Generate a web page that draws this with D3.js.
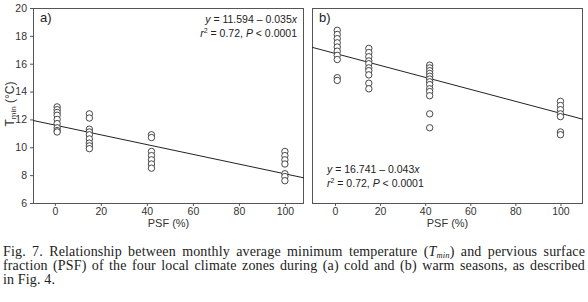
<!DOCTYPE html>
<html>
<head>
<meta charset="utf-8">
<script src="https://cdn.jsdelivr.net/npm/d3@7"></script>
<style>
  body { margin: 0; background: #fff; }
  svg { display: block; font-family: "Liberation Sans", Arial, sans-serif; }
  .tick text { font-size: 10.5px; fill: #333; }
  .caption { font-family: "Liberation Serif", "Times New Roman", serif; font-size: 14px; letter-spacing: 0.15px; fill: #222; }
</style>
</head>
<body>
<div id="chart"></div>
<script>
// PSF groups (%)
var psfGroups = [1, 15, 42, 100];

// (a) cold season Tmin per PSF group
var coldAt1 = [12.9, 12.7, 12.5, 12.3, 12.0, 11.7, 11.4, 11.2, 11.1];
var coldAt15 = [12.4, 12.1, 11.3, 11.1, 10.9, 10.6, 10.3, 10.1, 9.9];
var coldAt42 = [10.9, 10.7, 9.7, 9.4, 9.1, 8.8, 8.5];
var coldAt100 = [9.7, 9.4, 9.1, 8.8, 8.1, 7.9, 7.6];

// (b) warm season Tmin per PSF group
var warmAt1 = [18.4, 18.1, 17.8, 17.5, 17.2, 16.9, 16.6, 16.3, 15.0, 14.8];
var warmAt15 = [17.1, 16.8, 16.5, 16.2, 16.0, 15.7, 15.5, 15.2, 14.6, 14.2];
var warmAt42 = [15.9, 15.7, 15.5, 15.3, 15.1, 14.9, 14.7, 14.5, 14.2, 14.0, 13.7, 12.4, 11.4];
var warmAt100 = [13.3, 13.0, 12.7, 12.4, 12.2, 11.1, 10.9];

var yTicks = [6, 8, 10, 12, 14, 16, 18, 20];
var xTicks = [0, 20, 40, 60, 80, 100];

var svg = d3.select("#chart").append("svg")
  .attr("width", 588)
  .attr("height", 302);

// flatten a set of groups into points
function toPoints(groups) {
  var pts = [];
  groups.forEach(function(vals, i) {
    vals.forEach(function(v) { pts.push({ x: psfGroups[i], y: v }); });
  });
  return pts;
}

function panel(opt) {
  var x = d3.scaleLinear().domain(opt.xDomain).range([opt.left, opt.right]);
  var y = d3.scaleLinear().domain([6, 20]).range([203, 8]);

  var g = svg.append("g");

  // frame
  g.append("rect")
    .attr("x", opt.left + 0.5).attr("y", 8.5)
    .attr("width", opt.right - opt.left - 1).attr("height", 195)
    .attr("fill", "none").attr("stroke", "#555").attr("stroke-width", 1);

  var xAxis = g.append("g")
    .attr("transform", "translate(0,203)")
    .call(d3.axisBottom(x).tickValues(xTicks).tickSize(3).tickPadding(2));
  xAxis.select(".domain").remove();
  xAxis.selectAll("line").attr("stroke", "#555");

  if (opt.yAxis) {
    var yAxis = g.append("g")
      .attr("transform", "translate(" + opt.left + ",0)")
      .call(d3.axisLeft(y).tickValues(yTicks).tickSize(3).tickPadding(3));
    yAxis.select(".domain").remove();
    yAxis.selectAll("line").attr("stroke", "#555");
  }

  // regression line
  var xd = x.domain();
  g.append("line")
    .attr("x1", x(xd[0])).attr("y1", y(opt.b0 + opt.b1 * xd[0]))
    .attr("x2", x(xd[1])).attr("y2", y(opt.b0 + opt.b1 * xd[1]))
    .attr("stroke", "#222").attr("stroke-width", 1);

  g.selectAll("circle.pt")
    .data(toPoints(opt.groups))
    .enter().append("circle")
    .attr("class", "pt")
    .attr("cx", function(d) { return x(d.x); })
    .attr("cy", function(d) { return y(d.y); })
    .attr("r", 3.2)
    .attr("fill", "#fff")
    .attr("stroke", "#333")
    .attr("stroke-width", 0.9);

  g.append("text")
    .attr("x", opt.left + 7).attr("y", 22)
    .attr("font-size", "13px").attr("fill", "#222")
    .text(opt.label);

  g.append("text")
    .attr("x", x(xd[0] + (xd[1] - xd[0]) / 2)).attr("y", 227)
    .attr("text-anchor", "middle").attr("font-size", "11px").attr("fill", "#333")
    .text("PSF (%)");

  var eq = g.append("text")
    .attr("font-size", "10.5px").attr("fill", "#222")
    .attr("text-anchor", opt.eqAnchor);
  var l1 = eq.append("tspan").attr("x", opt.eqX).attr("y", opt.eqY);
  l1.append("tspan").attr("font-style", "italic").text("y");
  l1.append("tspan").text(" = " + opt.b0.toFixed(3) + " \u2013 " + (-opt.b1).toFixed(3));
  l1.append("tspan").attr("font-style", "italic").text("x");
  var l2 = eq.append("tspan").attr("x", opt.eqX).attr("y", opt.eqY + 14);
  l2.append("tspan").attr("font-style", "italic").text("r");
  l2.append("tspan").attr("font-size", "7px").attr("dy", -4).text("2");
  l2.append("tspan").attr("dy", 4).text(" = 0.72, ");
  l2.append("tspan").attr("font-style", "italic").text("P");
  l2.append("tspan").text(" < 0.0001");
}

panel({
  left: 33, right: 304, xDomain: [-9.5, 108.3], yAxis: true,
  groups: [coldAt1, coldAt15, coldAt42, coldAt100],
  b0: 11.594, b1: -0.035, label: "a)",
  eqX: 297, eqY: 23, eqAnchor: "end"
});

panel({
  left: 312, right: 583, xDomain: [-10.2, 110], yAxis: false,
  groups: [warmAt1, warmAt15, warmAt42, warmAt100],
  b0: 16.741, b1: -0.043, label: "b)",
  eqX: 327, eqY: 173, eqAnchor: "start"
});

// y axis title
var yt = svg.append("text")
  .attr("transform", "translate(14,104) rotate(-90)")
  .attr("text-anchor", "middle").attr("font-size", "12px").attr("fill", "#333");
yt.append("tspan").text("T");
yt.append("tspan").attr("font-size", "8px").attr("dy", 2).text("min");
yt.append("tspan").attr("dy", -2).text(" (\u00B0C)");

// caption, first two lines justified to the full width
var capWidth = 582;
function justify(t) {
  var words = t.text().split(" ").length - 1;
  var w = t.node().getComputedTextLength();
  t.attr("word-spacing", Math.max(0, (capWidth - w) / words) + "px");
}
var c1 = svg.append("text").attr("class", "caption").attr("x", 3).attr("y", 256);
c1.append("tspan").text("Fig. 7. Relationship between monthly average minimum temperature (");
c1.append("tspan").attr("font-style", "italic").text("T");
c1.append("tspan").attr("font-style", "italic").attr("font-size", "8.5px").attr("dy", 1.5).text("min");
c1.append("tspan").attr("dy", -1.5).text(") and pervious surface");
justify(c1);
var c2 = svg.append("text").attr("class", "caption").attr("x", 3).attr("y", 270)
  .text("fraction (PSF) of the four local climate zones during (a) cold and (b) warm seasons, as described");
justify(c2);
svg.append("text").attr("class", "caption").attr("x", 3).attr("y", 284).text("in Fig. 4.");
</script>
</body>
</html>
